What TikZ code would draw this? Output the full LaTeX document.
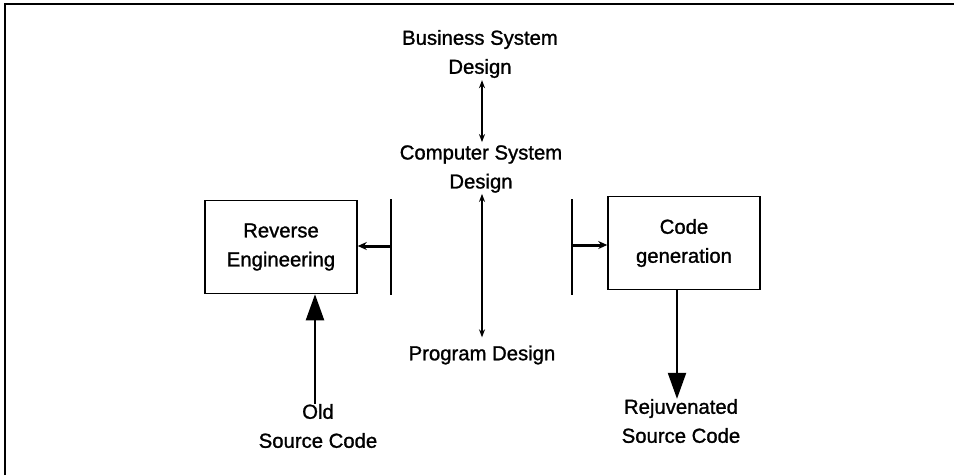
\documentclass[tikz,border=0pt]{standalone}
\usepackage{fontspec}
\setmainfont[FakeBold=1.2]{Liberation Sans}
\usetikzlibrary{arrows.meta,calc}
\begin{document}
\begin{tikzpicture}[x=1pt,y=-1pt,
  lbl/.style={align=center,font=\fontsize{20.3}{29}\selectfont,inner sep=0pt},
  procbox/.style={draw,line width=1.5pt,minimum width=152pt,minimum height=93pt,
    align=center,font=\fontsize{20.3}{29}\selectfont,inner sep=0pt},
  thinarr/.style={line width=1.3pt,{Stealth[length=8pt,width=6pt]}-{Stealth[length=8pt,width=6pt]}},
  feed/.style={line width=3pt,-{Stealth[length=9pt,width=8pt]}},
  bigarr/.style={line width=2.2pt,-{Triangle[length=26pt,width=18pt]}},
  bar/.style={line width=1.8pt}]
\useasboundingbox (0,0) rectangle (954,475);
% frame (top and left edges)
\draw[line width=2.6pt] (5,475) -- (5,4) -- (954,4);

% design levels
\node[lbl] (bsd) at (480,54) {Business System\\Design};
\node[lbl] (csd) at (481,169) {Computer System\\Design};
\node[lbl] (pd)  at (482,355) {Program Design};

% process boxes
\node[procbox] (rev) at (281,247) {Reverse\\Engineering};
\node[procbox] (cg)  at (684,243) {Code\\generation};

% source code labels
\node[lbl] (old) at (318,426) {Old\\Source Code};
\node[lbl] (rej) at (681,421) {Rejuvenated\\Source Code};

% bars either side of the central axis
\coordinate (lbt) at (391,199);
\coordinate (lbb) at (391,295);
\coordinate (rbt) at (572,199);
\coordinate (rbb) at (572,295);
\draw[bar] (lbt) -- (lbb);
\draw[bar] (rbt) -- (rbb);
\coordinate (lbm) at (391,246);
\coordinate (rbm) at (572,245);

% connectors
\draw[thinarr] ($(bsd.south)+(2,2)$) -- ($(csd.north)+(1,-3)$);
\draw[thinarr] ($(csd.south)+(1,1)$) -- ($(pd.north)+(0,-8)$);
\draw[feed] (lbm) -- (lbm -| rev.east);
\draw[feed] (rbm) -- (rbm -| cg.west);
\coordinate (oldtop) at ($(old.north)+(-3,0)$);
\draw[bigarr] (oldtop) -- (oldtop |- rev.south);
\coordinate (cgout) at (677,289);
\draw[bigarr] (cgout) -- (cgout |- rej.north);
\end{tikzpicture}
\end{document}
